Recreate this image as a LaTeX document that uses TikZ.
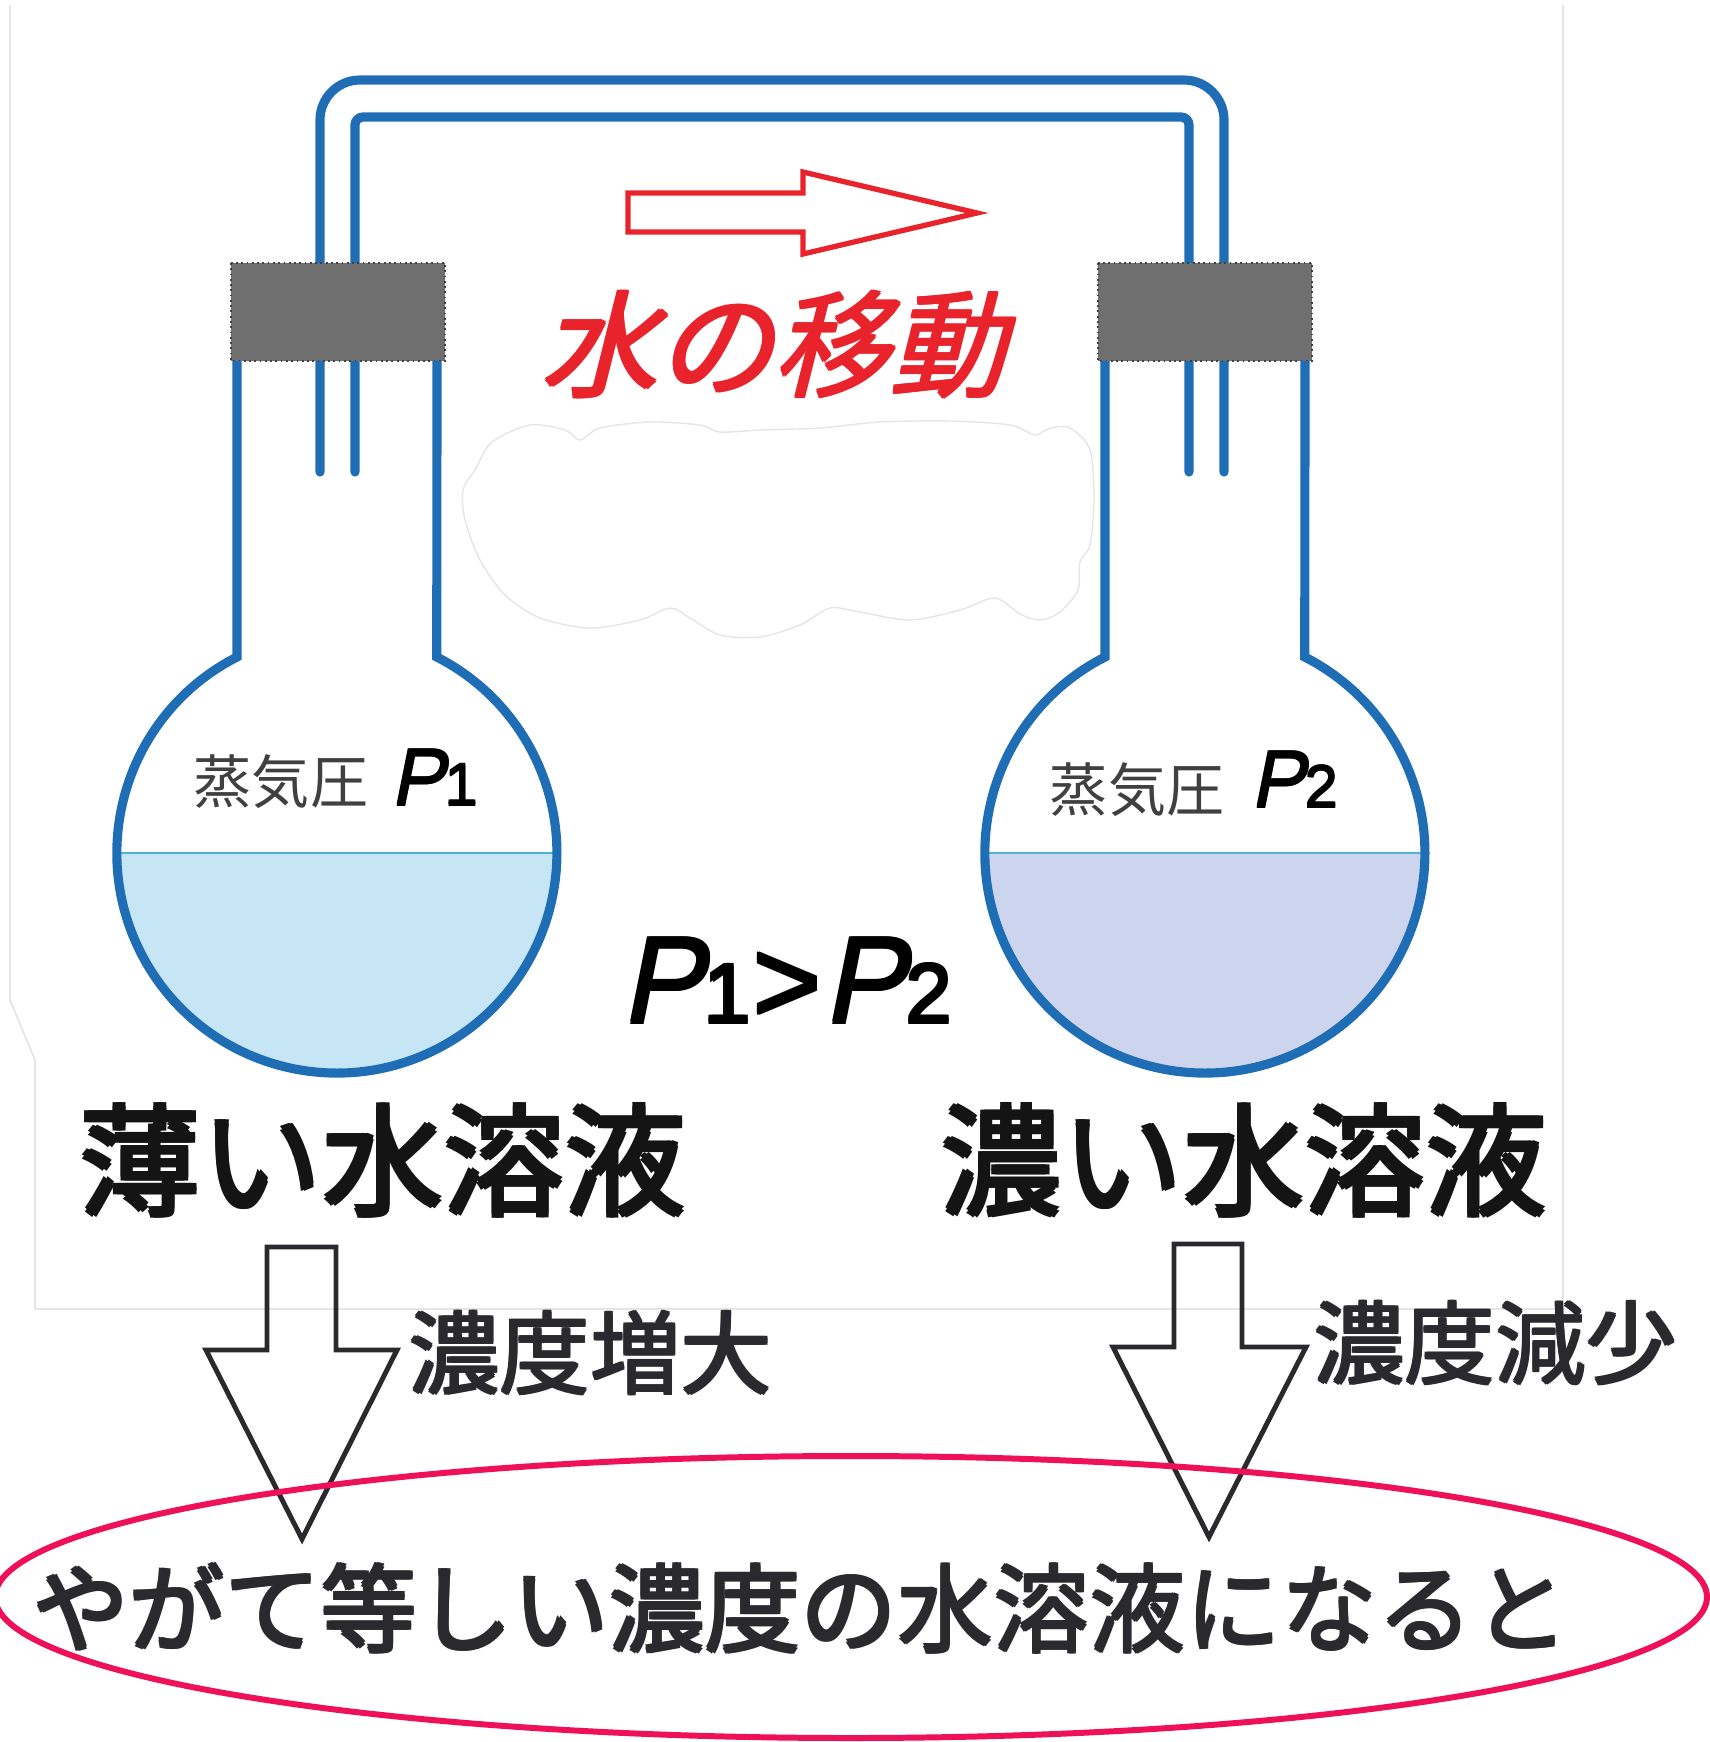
\documentclass[tikz,border=0pt]{standalone}
\usepackage{fontspec}
\newfontfamily\jp{Noto Sans CJK JP}
\newfontfamily\jpslant[FakeSlant=0.25]{Noto Sans CJK JP}
\newfontfamily\lsans{Liberation Sans}
\newfontfamily\lsansslant[FakeSlant=0.2]{Liberation Sans}
\definecolor{glass}{HTML}{1F6DB5}
\definecolor{plug}{HTML}{6F6F6F}
\definecolor{thinliq}{HTML}{C6E5F5}
\definecolor{thickliq}{HTML}{CDD4EE}
\definecolor{surface}{HTML}{4FB3D9}
\definecolor{movered}{HTML}{E8232B}
\definecolor{ink}{HTML}{2A2A2E}
\definecolor{ringred}{HTML}{EE1158}
% heavier strokes: the text set four times with a small offset
\newcommand{\thickset}[2]{\leavevmode\rlap{\kern#1\relax#2}\rlap{\raisebox{#1}{#2}}\rlap{\kern#1\relax\raisebox{#1}{#2}}#2}
% pressure symbol: slanted P with a smaller upright index on the same baseline
\newcommand{\Psym}[4]{\thickset{#4}{{\lsansslant\fontsize{#1}{#1}\selectfont P}{\lsans\fontsize{#2}{#2}\selectfont #3}}}
\begin{document}
\begin{tikzpicture}[x=0.01cm,y=-0.01cm,
  glassline/.style={draw=glass,line width=2.6pt},
  tube/.style={draw=glass,line width=2.6pt,line cap=round},
  stopper/.style={fill=plug,draw=black!75,line width=0.5pt,densely dotted},
  surfaceline/.style={draw=surface,line width=0.6pt},
  hollowdown/.style={draw=ink,line width=1.4pt,line join=miter},
  jplabel/.style={inner sep=0pt,text=ink},
  ]
\useasboundingbox (0,0) rectangle (1710,1742);

% faint edge of the pasted panel
\draw[black!10,line width=0.5pt] (10,5) -- (10,1000) -- (35,1060) -- (35,1309) -- (1563,1309) -- (1563,5);

% connecting tubes
\draw[tube,rounded corners=0.4cm] (320,472) -- (320,80) -- (1224,80) -- (1224,472);
\draw[tube,rounded corners=0.08cm] (355,472) -- (355,117) -- (1189,117) -- (1189,472);

% stoppers
\path[stopper] (231,263) rectangle (445,361);
\path[stopper] (1098,263) rectangle (1312,361);

% liquids
\fill[thinliq] (117,853) arc[start angle=180,end angle=0,radius=220] -- cycle;
\draw[surfaceline] (117,853) -- (557,853);
\fill[thickliq] (985,853) arc[start angle=180,end angle=0,radius=220] -- cycle;
\draw[surfaceline] (985,853) -- (1425,853);

% flasks
\draw[glassline] (237,361) -- (237,657) arc[start angle=243,end angle=-63,radius=220] -- (437,361);
\draw[glassline] (1105,361) -- (1105,657) arc[start angle=243,end angle=-63,radius=220] -- (1305,361);

% direction of water transfer
\draw[movered,line width=1.5pt,line join=miter]
  (628,193) -- (803,193) -- (803,172) -- (977,213) -- (803,254) -- (803,232) -- (628,232) -- cycle;
\node[font=\jpslant\fontsize{33}{33}\selectfont,text=movered,inner sep=0pt] (move) at (772,345) {\thickset{0.6pt}{水の移動}};

% blanked-out area
\draw[black!10,line width=0.4pt,fill=white] plot[smooth cycle,tension=0.5] coordinates {
  (475,470) (492,442) (530,425) (565,430) (580,440) (600,428) (650,422) (700,425) (720,432)
  (760,430) (820,428) (880,422) (950,421) (1010,425) (1035,435) (1050,428) (1070,428) (1090,450) (1094,500)
  (1090,545) (1080,562) (1078,590) (1060,612) (1040,620) (1020,614) (995,598) (960,610)
  (910,620) (860,612) (830,608) (800,625) (760,637) (720,635) (690,618) (670,608)
  (640,620) (590,628) (540,618) (505,595) (480,560) (465,520) (463,490)};

% vapour pressure labels
\node[font=\jp\fontsize{16.5}{16.5}\selectfont,text=black!75,inner sep=0pt] (vp1) at (281,782) {蒸気圧};
\node[inner sep=0pt,anchor=base west] (p1) at (390,806) {\Psym{23}{17}{1}{0.3pt}};
\node[font=\jp\fontsize{16.5}{16.5}\selectfont,text=black!75,inner sep=0pt] (vp2) at (1137,790) {蒸気圧};
\node[inner sep=0pt,anchor=base west] (p2) at (1250,808) {\Psym{23}{17}{2}{0.3pt}};

\node[inner sep=0pt,anchor=base] (rel) at (786,1024)
  {\Psym{35}{24}{1}{0.6pt}{\thickset{0.6pt}{\lsans\fontsize{34}{34}\selectfont\kern0.01em>\kern0.01em}}\Psym{35}{24}{2}{0.6pt}};

% solution names
\node[font=\jp\fontsize{34.5}{34.5}\selectfont,text=black!92,inner sep=0pt] (dilute) at (381,1160) {\thickset{1.1pt}{薄い水溶液}};
\node[font=\jp\fontsize{34.5}{34.5}\selectfont,text=black!92,inner sep=0pt] (dense) at (1242,1160) {\thickset{1.1pt}{濃い水溶液}};

% outcome arrows
\draw[hollowdown] (267,1247) -- (336,1247) -- (336,1350) -- (397,1350) -- (302,1539)
  -- (206,1350) -- (267,1350) -- cycle;
\draw[hollowdown] (1174,1244) -- (1242,1244) -- (1242,1347) -- (1306,1347) -- (1209,1537)
  -- (1113,1347) -- (1174,1347) -- cycle;
\node[jplabel,font=\jp\fontsize{25.8}{25.8}\selectfont] (up) at (589,1353) {\thickset{0.75pt}{濃度増大}};
\node[jplabel,font=\jp\fontsize{25.8}{25.8}\selectfont] (down) at (1494,1343) {\thickset{0.75pt}{濃度減少}};

% conclusion
\draw[ringred,line width=1.7pt] (851,1597) ellipse[x radius=856,y radius=141];
\node[jplabel,font=\jp\fontsize{27.3}{27.3}\selectfont] (final) at (800,1608) {\thickset{0.8pt}{やがて等しい濃度の水溶液になると}};
\end{tikzpicture}
\end{document}
